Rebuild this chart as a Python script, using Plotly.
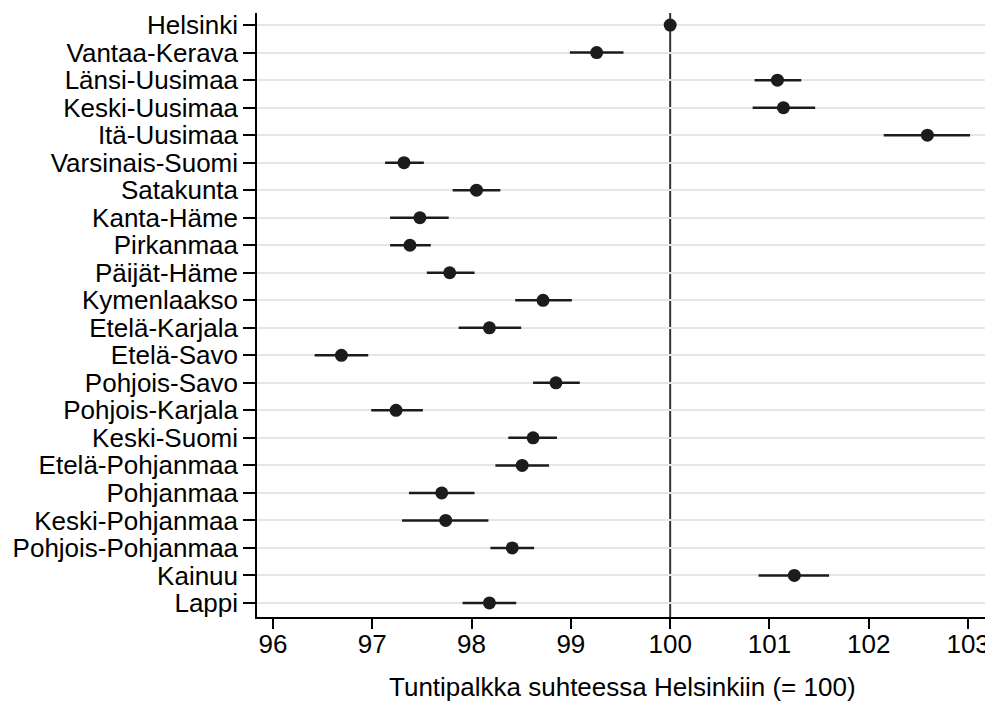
import plotly.graph_objects as go

regions = ["Helsinki", "Vantaa-Kerava", "Länsi-Uusimaa", "Keski-Uusimaa", "Itä-Uusimaa",
           "Varsinais-Suomi", "Satakunta", "Kanta-Häme", "Pirkanmaa", "Päijät-Häme",
           "Kymenlaakso", "Etelä-Karjala", "Etelä-Savo", "Pohjois-Savo", "Pohjois-Karjala",
           "Keski-Suomi", "Etelä-Pohjanmaa", "Pohjanmaa", "Keski-Pohjanmaa",
           "Pohjois-Pohjanmaa", "Kainuu", "Lappi"]
estimate = [100.00, 99.26, 101.08, 101.14, 102.59,
            97.32, 98.05, 97.48, 97.38, 97.78,
            98.72, 98.18, 96.69, 98.85, 97.24,
            98.62, 98.51, 97.70, 97.74,
            98.41, 101.25, 98.18]
ci_low = [100.00, 98.99, 100.85, 100.83, 102.15,
          97.13, 97.81, 97.18, 97.18, 97.55,
          98.44, 97.87, 96.42, 98.62, 96.99,
          98.37, 98.24, 97.37, 97.30,
          98.19, 100.89, 97.91]
ci_high = [100.00, 99.53, 101.32, 101.46, 103.02,
           97.52, 98.29, 97.77, 97.59, 98.03,
           99.01, 98.50, 96.96, 99.09, 97.51,
           98.86, 98.78, 98.03, 98.17,
           98.63, 101.60, 98.45]
x_ticks = [96, 97, 98, 99, 100, 101, 102, 103]
x_title = "Tuntipalkka suhteessa Helsinkiin (= 100)"

err_plus = [h - e for h, e in zip(ci_high, estimate)]
err_minus = [e - l for e, l in zip(estimate, ci_low)]

FONT = "Liberation Sans, Arial, sans-serif"
INK = "#1c1c1c"

fig = go.Figure()
fig.add_trace(go.Scatter(
    x=estimate, y=regions, mode="markers",
    marker=dict(size=13, color=INK),
    error_x=dict(type="data", symmetric=False, array=err_plus, arrayminus=err_minus,
                 width=0, thickness=2.5, color=INK),
    showlegend=False, hoverinfo="x+y",
))

fig.add_shape(type="line", x0=100, x1=100, xref="x", y0=0, y1=1, yref="paper",
              line=dict(color="#333333", width=2), layer="between")

fig.add_annotation(text=x_title, xref="paper", yref="paper", x=0.5, y=-0.1159,
                   xanchor="center", yanchor="middle", showarrow=False,
                   font=dict(family=FONT, size=26, color="black"))

fig.update_layout(
    width=985, height=694,
    margin=dict(l=249, r=6, t=5, b=85, autoexpand=False),
    paper_bgcolor="white", plot_bgcolor="white",
    font=dict(family=FONT, size=26, color="black"),
    xaxis=dict(
        range=[95.84, 103.19], tickmode="array", tickvals=x_ticks,
        ticktext=[str(t) for t in x_ticks], automargin=False,
        showgrid=False, zeroline=False,
        showline=True, linecolor="black", linewidth=1.5,
        ticks="outside", ticklen=10, tickwidth=1.5, tickcolor="black",
        tickfont=dict(size=26), ticklabelstandoff=-7, ticklabeloverflow="allow",
    ),
    yaxis=dict(
        type="category", categoryorder="array", categoryarray=regions,
        tickmode="array", tickvals=regions, ticktext=regions, automargin=False,
        range=[21.51, -0.44],
        showgrid=True, gridcolor="#e6e6e6", gridwidth=1.5,
        zeroline=False, showline=True, linecolor="black", linewidth=1.5,
        ticks="outside", ticklen=12, tickwidth=1.5, tickcolor="black",
        tickfont=dict(size=26),
    ),
)

fig.write_html("out.html")
